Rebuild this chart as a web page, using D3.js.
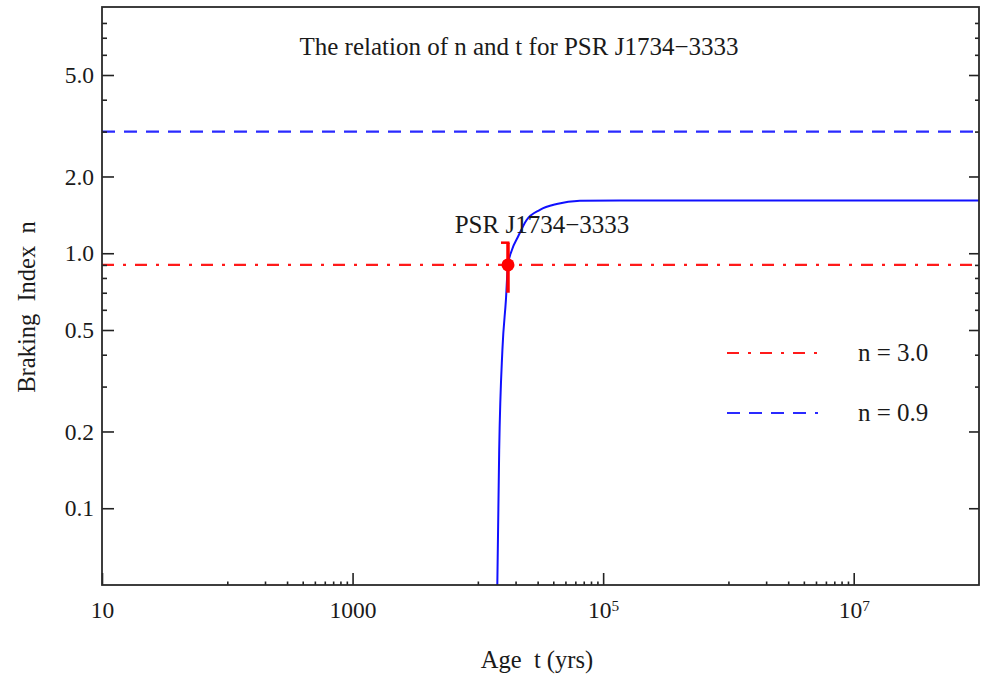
<!DOCTYPE html>
<html>
<head>
<meta charset="utf-8">
<script src="https://cdn.jsdelivr.net/npm/d3@7/dist/d3.min.js"></script>
<style>
  html, body { margin: 0; padding: 0; background: #fff; }
  svg { display: block; }
  text { font-family: "Liberation Serif", "Times New Roman", serif; fill: #1a1a1a; }
</style>
</head>
<body>
<svg id="chart" width="981" height="681"></svg>
<script>
// ---------------- data ----------------
const titleText = "The relation of n and t for PSR J1734\u22123333";
const xAxisLabel = "Age  t (yrs)";
const yAxisLabel = "Braking  Index  n";

// model curve n(t)
const curveAge = [14300, 14800, 15700, 16750, 17400, 18700, 20900, 24500, 31300, 42600, 65300, 136000, 1e6, 1e8];
const curveN   = [0.05, 0.169, 0.418, 0.656, 0.9, 1.03, 1.16, 1.35, 1.48, 1.56, 1.605, 1.61, 1.61, 1.61];

// observed pulsar
const pulsarName = "PSR J1734\u22123333";
const pulsarAge = [17400];
const pulsarN = [0.9];
const pulsarErr = [0.2];

// reference horizontal lines
const refLineValues = [0.9, 3.0];
const refLineColors = ["#ff1a1a", "#2a2aff"];
const refLineDash = ["12,9,3,9", "13,9"];
const legendLabels = ["n = 3.0", "n = 0.9"];

// axes
const xDomain = [10, 1e8];
const yDomain = [0.05, 9.24];
const xMajorTicks = [10, 1000, 1e5, 1e7];
const xTickLabels = ["10", "1000", "10^5", "10^7"];
const xMinorTicks = [100, 200, 300, 400, 500, 600, 700, 800, 900,
                     1e4, 2e4, 3e4, 4e4, 5e4, 6e4, 7e4, 8e4, 9e4,
                     1e6, 2e6, 3e6, 4e6, 5e6, 6e6, 7e6, 8e6, 9e6];
const yMajorTicks = [0.1, 0.2, 0.5, 1.0, 2.0, 5.0];
const yTickLabels = ["0.1", "0.2", "0.5", "1.0", "2.0", "5.0"];
const yMinorTicks = [0.3, 0.4, 0.6, 0.7, 0.8, 0.9, 3, 4, 6, 7, 8];

// ---------------- layout ----------------
const svg = d3.select("#chart");
const L = 102, T = 7, R = 979, B = 585;
const FS = 25;      // titles / labels
const FT = 23.5;    // tick labels

const x = d3.scaleLog().domain(xDomain).range([L, R]);
const y = d3.scaleLog().domain(yDomain).range([B, T]);

svg.append("defs").append("clipPath").attr("id", "plotclip")
  .append("rect").attr("x", L).attr("y", T).attr("width", R - L).attr("height", B - T);

const plot = svg.append("g").attr("clip-path", "url(#plotclip)");

// reference lines
refLineValues.forEach((v, i) => {
  plot.append("line")
    .attr("x1", x(xDomain[0])).attr("x2", x(xDomain[1]))
    .attr("y1", y(v)).attr("y2", y(v))
    .attr("stroke", refLineColors[i]).attr("stroke-width", 2.2)
    .attr("stroke-dasharray", refLineDash[i]);
});

// curve
const curveData = curveAge.map((a, i) => [a, curveN[i]]);
plot.append("path")
  .datum(curveData)
  .attr("fill", "none")
  .attr("stroke", "#1010ff")
  .attr("stroke-width", 2)
  .attr("d", d3.line().x(d => x(d[0])).y(d => y(d[1])).curve(d3.curveMonotoneX));

// error bar + point
pulsarAge.forEach((a, i) => {
  const px = x(a), py = y(pulsarN[i]);
  const yTop = y(pulsarN[i] + pulsarErr[i]);
  const yBot = y(pulsarN[i] - pulsarErr[i]);
  plot.append("line").attr("x1", px).attr("x2", px).attr("y1", yTop).attr("y2", yBot)
    .attr("stroke", "#ff0000").attr("stroke-width", 3.5);
  plot.append("line").attr("x1", px - 7).attr("x2", px + 1.5).attr("y1", yTop).attr("y2", yTop)
    .attr("stroke", "#ff0000").attr("stroke-width", 2.5);
  plot.append("circle").attr("cx", px).attr("cy", py).attr("r", 6.5).attr("fill", "#ff0000");
  svg.append("text")
    .attr("x", px + 34).attr("y", py - 32)
    .attr("text-anchor", "middle")
    .style("font-size", FS + "px")
    .text(pulsarName);
});

// ---------------- axes ----------------
function styleAxis(g) {
  g.select(".domain").remove();
  g.selectAll(".tick line").attr("stroke", "#222").attr("stroke-width", 1.6);
  g.selectAll(".tick text").style("font-size", FT + "px").attr("fill", "#1a1a1a")
    .style("font-family", '"Liberation Serif", serif');
}

// bottom major
const gxB = svg.append("g").attr("transform", `translate(0,${B})`)
  .call(d3.axisBottom(x).tickValues(xMajorTicks).tickSize(-12).tickPadding(16)
    .tickFormat((d, i) => ""));
styleAxis(gxB);
gxB.selectAll(".tick text").each(function(d, i) {
  const parts = xTickLabels[i].split("^");
  const t = d3.select(this);
  t.append("tspan").text(parts[0]);
  if (parts[1]) {
    t.append("tspan").attr("dy", "-0.45em").style("font-size", (FT * 0.65) + "px").text(parts[1]);
  }
});
// bottom minor
const gxBm = svg.append("g").attr("transform", `translate(0,${B})`)
  .call(d3.axisBottom(x).tickValues(xMinorTicks).tickSize(-3.5).tickFormat(() => ""));
styleAxis(gxBm);

// left major
const gyL = svg.append("g").attr("transform", `translate(${L},0)`)
  .call(d3.axisLeft(y).tickValues(yMajorTicks).tickSize(-12).tickPadding(8)
    .tickFormat((d, i) => yTickLabels[i]));
styleAxis(gyL);
const gyLm = svg.append("g").attr("transform", `translate(${L},0)`)
  .call(d3.axisLeft(y).tickValues(yMinorTicks).tickSize(-5).tickFormat(() => ""));
styleAxis(gyLm);

// right mirror ticks
const gyR = svg.append("g").attr("transform", `translate(${R},0)`)
  .call(d3.axisRight(y).tickValues(yMajorTicks).tickSize(-10).tickFormat(() => ""));
styleAxis(gyR);
const gyRm = svg.append("g").attr("transform", `translate(${R},0)`)
  .call(d3.axisRight(y).tickValues(yMinorTicks).tickSize(-4).tickFormat(() => ""));
styleAxis(gyRm);

// frame
svg.append("rect").attr("x", L).attr("y", T).attr("width", R - L).attr("height", B - T)
  .attr("fill", "none").attr("stroke", "#2a2a2a").attr("stroke-width", 1.8);

// title
svg.append("text").attr("x", 519).attr("y", 55).attr("text-anchor", "middle")
  .style("font-size", FS + "px").text(titleText);

// axis labels
svg.append("text").attr("x", 537).attr("y", 668).attr("text-anchor", "middle")
  .style("font-size", (FS - 0.5) + "px").style("white-space", "pre").text(xAxisLabel);
svg.append("text").attr("transform", "translate(35,307) rotate(-90)")
  .attr("text-anchor", "middle")
  .style("font-size", (FS - 0.5) + "px").style("white-space", "pre").text(yAxisLabel);

// legend
const lgX1 = 727, lgX2 = 818, lgY0 = 353, lgDY = 60, lgTextX = 858;
legendLabels.forEach((lab, i) => {
  const yy = lgY0 + i * lgDY;
  svg.append("line").attr("x1", lgX1).attr("x2", lgX2).attr("y1", yy).attr("y2", yy)
    .attr("stroke", refLineColors[i]).attr("stroke-width", 2.2)
    .attr("stroke-dasharray", refLineDash[i]);
  svg.append("text").attr("x", lgTextX).attr("y", yy + 8)
    .style("font-size", FS + "px").style("white-space", "pre").text(lab);
});
</script>
</body>
</html>
